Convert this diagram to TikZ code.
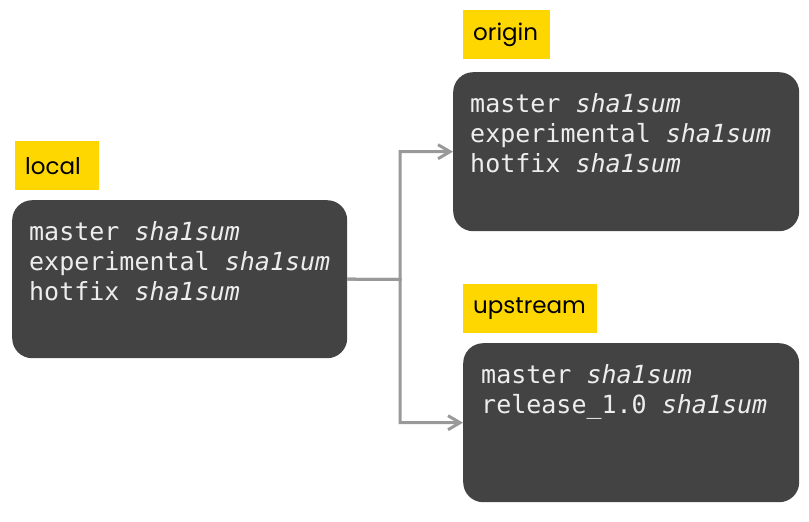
\documentclass[tikz,border=0pt]{standalone}
\usepackage{fontspec}
\setmainfont{Poppins}
\setmonofont{DejaVu Sans Mono}
\usetikzlibrary{arrows.meta}
\definecolor{repogray}{HTML}{434343}
\definecolor{labelyellow}{HTML}{FFD700}
\definecolor{linkgray}{HTML}{999999}
\tikzset{
    repobox/.style={fill=repogray, draw=none, rounded corners=20pt, anchor=north west, inner sep=0pt},
    branches/.style={text=white!93!black, font=\ttfamily\fontsize{25}{30}\selectfont, align=left, anchor=base west, inner sep=0pt},
    remotelabel/.style={fill=labelyellow, anchor=north west, minimum height=49pt, inner xsep=10pt, inner ysep=0pt, align=left, font=\fontsize{23}{27}\selectfont},
    link/.style={draw=linkgray, line width=3pt, -{Straight Barb[length=12pt,width=14pt]}}
}
\begin{document}
\begin{tikzpicture}[x=1pt,y=-1pt]
        \useasboundingbox (0,0) rectangle (809,522);

        \node[remotelabel, text width=64pt] (locallabel) at (15,141) {local};
        \node[remotelabel, text width=67pt] (originlabel) at (463,10) {origin};
        \node[remotelabel, text width=114pt] (upstreamlabel) at (463,284) {upstream};

        \node[repobox, minimum width=335pt, minimum height=158pt] (localbox) at (12,200) {};
        \node[repobox, minimum width=346pt, minimum height=159pt] (originbox) at (453,72) {};
        \node[repobox, minimum width=336pt, minimum height=159pt] (upstreambox) at (463,343) {};

        \node[branches] (localtext) at (29,300) {master \textit{sha1sum}\\experimental \textit{sha1sum}\\hotfix \textit{sha1sum}};
        \node[branches] (origintext) at (470,172) {master \textit{sha1sum}\\experimental \textit{sha1sum}\\hotfix \textit{sha1sum}};
        \node[branches] (upstreamtext) at (481,413) {master \textit{sha1sum}\\release\_1.0 \textit{sha1sum}};

        \coordinate (fork) at (400,279.5);
        \draw[link] (localbox.east) -- (fork) |- (originbox.west);
        \draw[link] (localbox.east) -- (fork) |- (upstreambox.west);
    \end{tikzpicture}
\end{document}
